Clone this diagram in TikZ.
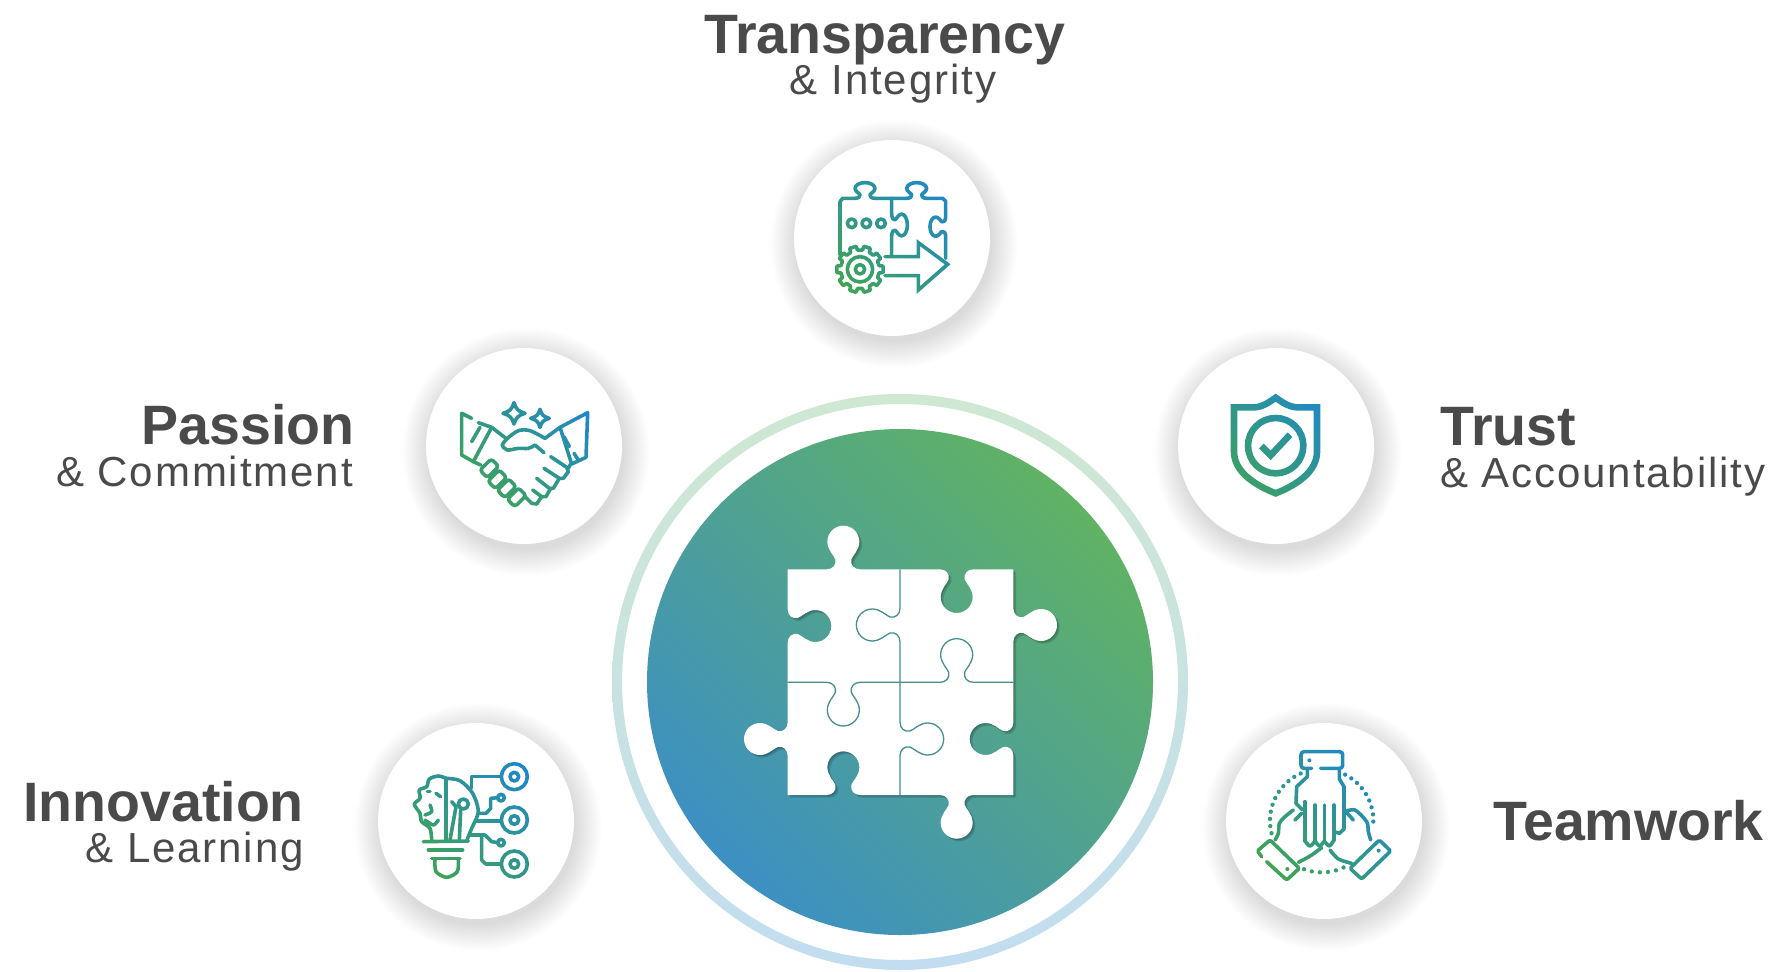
\documentclass[tikz,border=0pt]{standalone}
\usepackage{fontspec}
\setmainfont{Liberation Sans}

\definecolor{textgray}{HTML}{4A4A4A}
\definecolor{bigblue}{HTML}{3D90C2}
\definecolor{biggreen}{HTML}{60B264}
\definecolor{ringblue}{HTML}{C2DDF0}
\definecolor{ringgreen}{HTML}{CFE8D2}
\definecolor{iconblue}{HTML}{1E86CC}
\definecolor{icongreen}{HTML}{40A552}
\definecolor{seamteal}{HTML}{458F90}

\tikzset{
  headtext/.style={anchor=base,inner sep=0pt,text=textgray,font=\fontsize{55.5}{56}\selectfont\bfseries},
  subtext/.style={anchor=base,inner sep=0pt,text=textgray,font=\fontsize{42}{42}\selectfont\addfontfeatures{LetterSpace=4.5}},
  iconline/.style={draw=black,line width=3.6,line cap=round,line join=round},
  seamline/.style={draw=seamteal,line width=1.3},
  zoomed/.style={x=1/3pt,y=-1/3pt},
}

% one puzzle tab: base point, outward direction, direction along the edge
\newcommand{\pp}[8]{({#1+(#7)*#3+(#8)*#5},{#2+(#7)*#4+(#8)*#6})}
\newcommand{\tabb}[1]{-- \pp#1{0}{-50} .. controls \pp#1{0}{-32} and \pp#1{14}{-20} .. \pp#1{30}{-24}
  .. controls \pp#1{42}{-28} and \pp#1{58}{-48} .. \pp#1{83}{-48}
  .. controls \pp#1{110}{-48} and \pp#1{131}{-26} .. \pp#1{131}{0}
  .. controls \pp#1{131}{26} and \pp#1{110}{48} .. \pp#1{83}{48}
  .. controls \pp#1{58}{48} and \pp#1{42}{28} .. \pp#1{30}{24}
  .. controls \pp#1{14}{20} and \pp#1{0}{32} .. \pp#1{0}{50}}
\newcommand{\tab}[6]{\tabb{{#1}{#2}{#3}{#4}{#5}{#6}}}

% the outline of the four pieces
\newcommand{\puzzleoutline}{(203,208) \tab{370}{208}{0}{-1}{1}{0} \tab{710}{208}{0}{1}{1}{0} -- (880,208)
  \tab{880}{375}{1}{0}{0}{1} \tab{880}{717}{-1}{0}{0}{1} -- (880,885)
  \tab{710}{885}{0}{1}{-1}{0} \tab{370}{885}{0}{-1}{-1}{0} -- (203,885)
  \tab{203}{717}{-1}{0}{0}{-1} \tab{203}{378}{1}{0}{0}{-1} -- cycle}

\newcommand{\iconfill}[2]{\begin{scope}
  \clip (#1,#2) circle (97);
  \shade [blend mode=screen,bottom color=icongreen,top color=iconblue,shading angle=-45]
    (#1-72,#2-72) rectangle (#1+72,#2+72);
\end{scope}}

\newcommand{\disc}[2]{
  \foreach \r in {98,99.5,...,124}
    \fill [black,opacity=.006] (#1+2,#2-6) circle (\r);
  \fill [white] (#1,#2) circle (98);
}

\begin{document}
\begin{tikzpicture}[x=1pt,y=1pt]
\useasboundingbox (0,0) rectangle (1776,-971);
\fill [white] (0,0) rectangle (1776,-971);

% ring and big disc
\shade [even odd rule,top color=ringgreen,bottom color=ringblue] (900,-682) circle (288) (900,-682) circle (278);
\shade [top color=biggreen,bottom color=bigblue,shading angle=-45] (900,-682) circle (253);

% the puzzle
\begin{scope}[shift={(720,-500)},zoomed]
  \fill [black,opacity=.15] [shift={(8,8)}] \puzzleoutline;
  \fill [black,opacity=.15] [shift={(4,4)}] \puzzleoutline;
  \fill [white] \puzzleoutline;
  \draw [seamline] (540,208) \tab{540}{375}{-1}{0}{0}{1} \tab{540}{717}{1}{0}{0}{1} -- (540,885);
  \draw [seamline] (203,547) \tab{370}{547}{0}{1}{1}{0} \tab{710}{547}{0}{-1}{1}{0} -- (880,547);
\end{scope}

% the five small discs
\disc{892}{-238}
\disc{524}{-446}
\disc{1276}{-446}
\disc{476}{-821}
\disc{1324}{-821}

% the gear, the pieces and the arrow
\begin{scope}[shift={(780,-130)},zoomed]
  \draw [iconline] (180,375) -- (180,215) -- (188,205) \tab{255}{205}{0}{-.36}{.62}{0}
    -- (335,205) \tab{335}{285}{.36}{0}{0}{.68} -- (335,378);
  \draw [iconline] (335,205) \tab{410}{205}{0}{-.36}{.62}{0}
    -- (488,205) -- (497,214) \tab{497}{290}{-.36}{0}{0}{.6} -- (497,385);
  \draw [iconline] (215,280) circle (13);
  \draw [iconline] (259,280) circle (13);
  \draw [iconline] (303,280) circle (13);
  \draw [iconline,line join=miter] (315,380) -- (415,380) -- (415,338) -- (503,403) -- (415,480) -- (415,437) -- (315,437);
  \begin{scope}[shift={(240,418)}]
    \fill [white] (0,0) circle (66);
    \draw [iconline] (-8:70) \foreach \a in {0,36,...,324} { -- (\a-8:70) -- (\a+8:70) -- (\a+11:58) -- (\a+25:58) } -- cycle;
    \draw [iconline] (0,0) circle (38);
    \draw [iconline] (0,0) circle (14);
  \end{scope}
\end{scope}
\iconfill{892}{-238}

% the handshake
\begin{scope}[shift={(420,-340)},zoomed]
  \draw [iconline] (155,235) -- (125,220) -- (125,345) -- (160,365) -- (215,262) -- (175,248);
  \draw [iconline] (180,262) -- (155,305);
  \draw [iconline] (420,262) -- (503,218) -- (498,352) -- (455,372) -- (420,262);
  \draw [iconline] (432,290) -- (448,320);
  \draw [iconline] (462,340) -- (475,360);
  \draw [iconline] (215,262) -- (258,295) -- plot[smooth] coordinates {(262,295)(295,272)(330,272)(375,295)} -- (420,262);
  \draw [iconline] plot[smooth] coordinates {(262,295)(247,315)(262,330)(295,325)(325,325)(345,315)} -- (372,338);
  \draw [iconline] (392,350) -- (440,382) -- (445,395) -- (430,415) -- (418,415) -- (372,385);
  \draw [iconline] (418,415) -- (400,445) -- (388,445) -- (350,415);
  \draw [iconline] (392,445) -- (378,470) -- (365,470) -- (338,450);
  \draw [iconline] (365,470) -- (350,492) -- (335,490) -- (315,470);
  \draw [iconline] (452,372) -- (445,385);
  \draw [iconline] (160,365) -- (182,375);
  \foreach \cx/\cy in {208/385,232/418,260/445,290/472}
    \draw [iconline,fill=white,rounded corners=3,rotate around={45:(\cx,\cy)}] (\cx-24,\cy-16) rectangle (\cx+24,\cy+16);
  \draw [iconline] (282,188) .. controls (288,208) and (295,214) .. (315,220) .. controls (295,226) and (288,232) .. (282,252)
    .. controls (276,232) and (269,226) .. (249,220) .. controls (269,214) and (276,208) .. (282,188) -- cycle;
  \draw [iconline] (360,208) .. controls (365,225) and (370,230) .. (388,235) .. controls (370,240) and (365,245) .. (360,262)
    .. controls (355,245) and (350,240) .. (332,235) .. controls (350,230) and (355,225) .. (360,208) -- cycle;
\end{scope}
\iconfill{524}{-446}

% the shield
\begin{scope}[shift={(1170,-340)},zoomed]
  \draw [iconline,line width=6.6,line join=miter,line cap=butt] (192,202) -- (255,202) .. controls (280,200) and (300,185) .. (317,173)
    .. controls (334,185) and (354,200) .. (380,202) -- (441,202) -- (441,335) .. controls (441,395) and (380,435) .. (317,460)
    .. controls (254,435) and (192,395) .. (192,335) -- cycle;
  \draw [iconline,line width=6.6] (317,317) circle (83);
  \draw [iconline,line width=6.6,line cap=butt,line join=miter] (274,318) -- (302,346) -- (360,284);
\end{scope}
\iconfill{1276}{-446}

% the bulb and its branches
\begin{scope}[shift={(370,-715)},zoomed]
  \foreach \cy in {185,315,447} {
    \draw [iconline] (433,\cy) circle (39);
    \draw [iconline] (433,\cy) circle (13);
  }
  \draw [iconline] (393,248) circle (10);
  \draw [iconline] (393,383) circle (10);
  \draw [iconline] plot[smooth] coordinates {(228,190)(270,197)(308,235)(325,290)(305,340)(292,372)};
  \draw [iconline] plot[smooth] coordinates {(228,190)(205,183)(178,192)(170,215)(148,225)(150,250)(133,268)(150,295)(155,320)(180,340)(185,375)};
  \draw [iconline] (228,190) -- (228,375);
  \draw [iconline] plot[smooth] coordinates {(165,300)(185,290)(180,270)};
  \draw [iconline] plot[smooth] coordinates {(165,315)(190,330)(205,315)};
  \draw [iconline] (172,230) -- (180,230);
  \draw [iconline] (198,235) -- (212,245);
  \draw [iconline] (160,380) -- (295,378);
  \draw [iconline] (175,405) -- (278,405);
  \draw [iconline] (185,430) -- (270,430);
  \draw [iconline] plot[smooth] coordinates {(195,435)(198,470)(230,487)(262,470)(265,435)};
  \draw [iconline] (240,375) -- (258,275) -- (245,260);
  \draw [iconline] (268,375) -- (272,285);
  \draw [iconline] (280,267) circle (15);
  \draw [iconline] (305,220) -- (305,185) -- (392,185);
  \draw [iconline] (328,295) -- (348,295) -- (362,280) -- (362,250) -- (383,248);
  \draw [iconline] (318,318) -- (392,318);
  \draw [iconline] (300,360) -- (345,360) -- (365,380) -- (383,383);
  \draw [iconline] (335,362) -- (335,435) -- (347,447) -- (392,447);
\end{scope}
\iconfill{476}{-821}

% the three hands
\begin{scope}[shift={(1220,-715)},zoomed]
  \draw [iconline,rounded corners=3] (275,160) -- (243,160) -- (243,110) -- (368,110) -- (368,160) -- (302,160);
  \fill (268,136) circle (6);
  \draw [iconline] (262,165) -- (262,185) -- (230,215) -- (228,265) -- (248,285);
  \draw [iconline] (358,165) -- (358,192) -- (372,215) -- (372,342) -- (358,355) -- (342,350);
  \draw [iconline] (255,260) -- (255,378);
  \draw [iconline] (285,270) -- (285,378);
  \draw [iconline] (313,270) -- (313,378);
  \draw [iconline] (342,270) -- (342,375);
  \draw [iconline] plot[smooth] coordinates {(255,378)(270,393)(285,378)};
  \draw [iconline] plot[smooth] coordinates {(285,378)(299,393)(313,378)};
  \draw [iconline] plot[smooth] coordinates {(313,378)(328,393)(342,375)};
  \draw [iconline] plot[smooth] coordinates {(220,285)(195,305)(178,325)(175,355)(165,375)};
  \draw [iconline] (245,295) -- (225,315);
  \draw [iconline] plot[smooth] coordinates {(305,398)(275,420)(258,430)(235,442)};
  \draw [iconline,rounded corners=1.5] (125,425) -- (112,408) -- (150,375) -- (238,460) -- (200,495) -- (140,440);
  \fill (202,462) circle (6);
  \draw [iconline] plot[smooth] coordinates {(375,290)(405,285)(440,320)(445,350)(452,375)};
  \draw [iconline] (382,295) -- (400,315);
  \draw [iconline] plot[smooth] coordinates {(330,405)(355,432)(395,445)};
  \draw [iconline,rounded corners=1.5] (478,375) -- (512,408) -- (425,492) -- (390,460) -- cycle;
  \fill (476,407) circle (6);
  \foreach \a in {166,174,...,246}
    \fill (305,317) ++(\a:155) circle (6.5);
  \foreach \a in {-63,-55,...,1}
    \fill (305,317) ++(\a:155) circle (6.5);
  \foreach \a in {65,74,...,111}
    \fill (305,317) ++(\a:155) circle (6.5);
\end{scope}
\iconfill{1324}{-821}

% the labels
\node [headtext,anchor=base] (transparency) at (885,-54) {Transparency};
\node [subtext,anchor=base] (integrity) at (893,-95) {\& Integrity};
\node [headtext,anchor=base east] (passion) at (355,-444) {Passion};
\node [subtext,anchor=base east] (commitment) at (353,-486) {\& Commitment};
\node [headtext,anchor=base west] (trust) at (1440,-445) {Trust};
\node [subtext,anchor=base west] (accountability) at (1440,-487) {\& Accountability};
\node [headtext,anchor=base east] (innovation) at (304,-821) {Innovation};
\node [subtext,anchor=base east] (learning) at (304,-862) {\& Learning};
\node [headtext,anchor=base east] (teamwork) at (1764,-840) {Teamwork};
\end{tikzpicture}
\end{document}
